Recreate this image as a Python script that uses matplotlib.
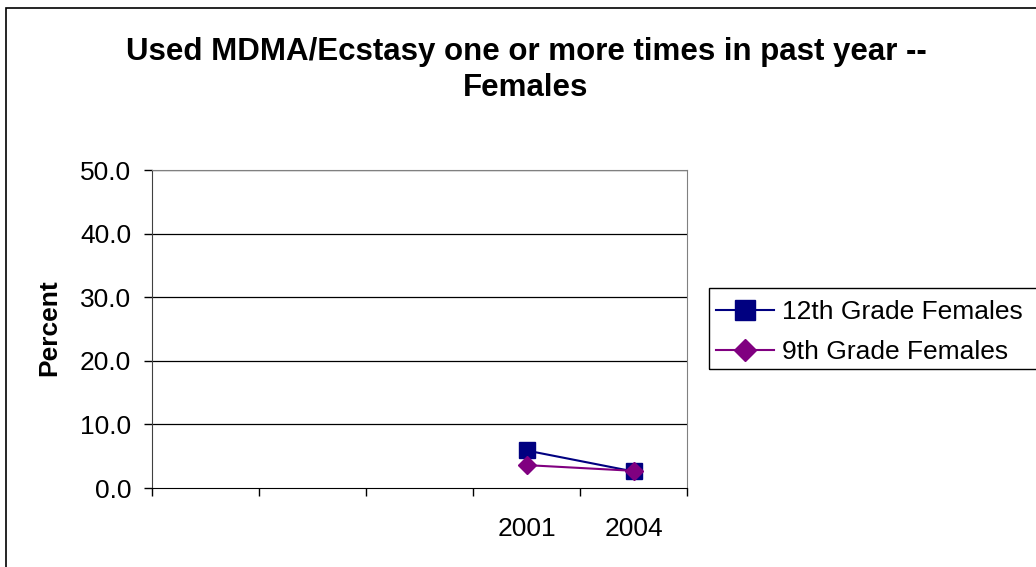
import matplotlib
matplotlib.use('Agg')
import matplotlib.pyplot as plt

plt.rcParams['font.family'] = ['Liberation Sans', 'DejaVu Sans']

categories = ['', '', '', '2001', '2004']
grade12 = [None, None, None, 5.9, 2.6]
grade9 = [None, None, None, 3.6, 2.7]
yticks = [0, 10, 20, 30, 40, 50]

fig = plt.figure(figsize=(10.36, 5.67), dpi=100)
W, H = 1036, 567
ax = fig.add_axes([152 / W, 1 - 488 / H, (687 - 152) / W, (488 - 170) / H])

x = list(range(len(categories)))
xs12 = [i for i, v in zip(x, grade12) if v is not None]
ys12 = [v for v in grade12 if v is not None]
xs9 = [i for i, v in zip(x, grade9) if v is not None]
ys9 = [v for v in grade9 if v is not None]

ax.plot(xs12, ys12, color='#000080', marker='s', markersize=12, linewidth=1.5,
        label='12th Grade Females', zorder=3, clip_on=False)
ax.plot(xs9, ys9, color='#800080', marker='D', markersize=9.5, linewidth=1.5,
        label='9th Grade Females', zorder=4, clip_on=False)

ax.set_xlim(-0.5, len(categories) - 0.5)
ax.set_ylim(0, 50)
ax.set_yticks(yticks)
ax.set_yticklabels([f'{v:.1f}' for v in yticks], fontsize=19)
ax.set_xticks(x)
ax.set_xticklabels(categories, fontsize=19)
ax.set_xticks([i - 0.5 for i in range(len(categories) + 1)], minor=True)
ax.tick_params(axis='x', which='major', length=0, pad=21)
ax.tick_params(axis='x', which='minor', length=6, width=1, color='black', direction='out')
ax.tick_params(axis='y', length=6, width=1, direction='out', pad=9)

for v in yticks[1:]:
    ax.axhline(v, color='black', linewidth=0.9, zorder=1)

ax.spines['left'].set_color('#404040')
ax.spines['bottom'].set_color('black')
ax.spines['top'].set_color('#808080')
ax.spines['right'].set_color('#808080')

fig.text(49 / W, 1 - 328 / H, 'Percent', rotation=90, ha='center', va='center',
         fontsize=19, fontweight='bold')

fig.text(526 / W, 1 - 70 / H, 'Used MDMA/Ecstasy one or more times in past year --\nFemales',
         ha='center', va='center', fontsize=22.5, fontweight='bold', linespacing=1.3)

# legend (frame drawn separately so it runs off the right edge like the original)
leg = fig.legend(loc='upper left', bbox_to_anchor=(711 / W, 1 - 295 / H), fontsize=19,
                 frameon=False, borderpad=0.2, handlelength=2.2, handletextpad=0.3,
                 labelspacing=0.6, borderaxespad=0, markerscale=1.15)
fig.patches.append(plt.Rectangle((709 / W, 1 - 369 / H), 340 / W, 81 / H,
                                 transform=fig.transFigure, fill=False,
                                 edgecolor='black', linewidth=1))

# outer chart border
fig.patches.append(plt.Rectangle((6 / W, -0.05), 1.1, 1 - 8 / H + 0.05,
                                 transform=fig.transFigure, fill=False,
                                 edgecolor='black', linewidth=1.2))

fig.savefig('out.png', dpi=100)
